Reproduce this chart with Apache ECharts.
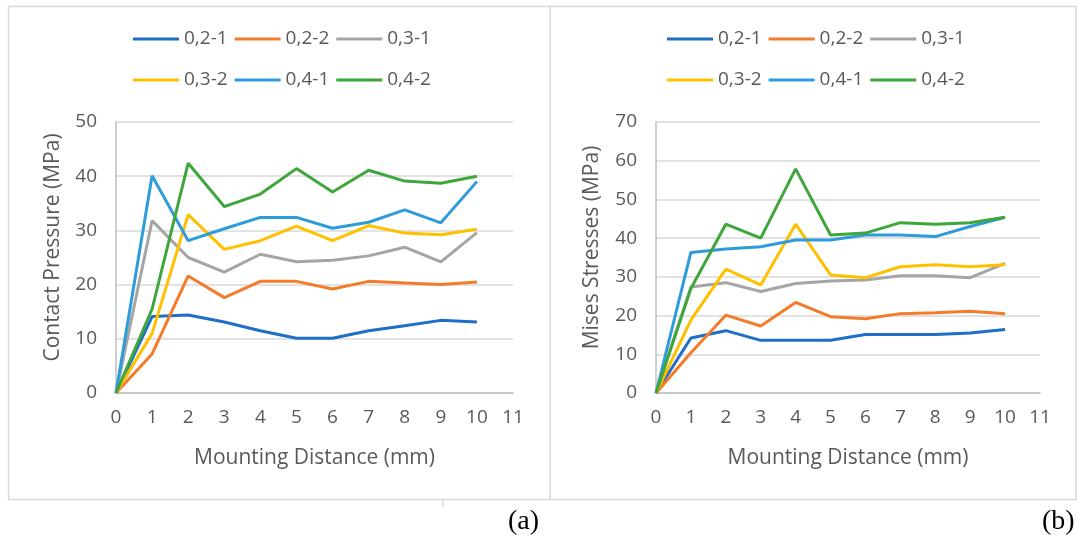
<!DOCTYPE html>
<html>
<head>
<meta charset="utf-8">
<script src="https://cdn.jsdelivr.net/npm/echarts@6/dist/echarts.min.js"></script>
<style>
html,body{margin:0;padding:0;background:#fff;}
#c{width:1077px;height:543px;}
</style>
</head>
<body>
<div id="c"></div>
<script>
// Mounting distance (mm)
const distance = [0, 1, 2, 3, 4, 5, 6, 7, 8, 9, 10];
const seriesNames = ['0,2-1', '0,2-2', '0,3-1', '0,3-2', '0,4-1', '0,4-2'];
const colors = ['#1F6FC6', '#F47B2A', '#A5A5A5', '#FFC000', '#2E9BDA', '#3FA63C'];

// (a) Contact Pressure (MPa)
const cp_02_1 = [0, 14.1, 14.4, 13.1, 11.5, 10.1, 10.1, 11.5, 12.4, 13.4, 13.1];
const cp_02_2 = [0, 7.2, 21.6, 17.6, 20.6, 20.6, 19.2, 20.6, 20.3, 20.0, 20.5];
const cp_03_1 = [0, 31.8, 25.0, 22.3, 25.6, 24.2, 24.5, 25.3, 26.9, 24.2, 29.6];
const cp_03_2 = [0, 11.0, 32.9, 26.5, 28.1, 30.8, 28.1, 30.9, 29.5, 29.2, 30.2];
const cp_04_1 = [0, 40.1, 28.1, 30.3, 32.4, 32.4, 30.4, 31.5, 33.8, 31.4, 39.0];
const cp_04_2 = [0, 15.5, 42.4, 34.4, 36.7, 41.4, 37.1, 41.1, 39.1, 38.7, 40.0];

// (b) Mises Stresses (MPa)
const ms_02_1 = [0, 14.2, 16.1, 13.6, 13.6, 13.6, 15.1, 15.1, 15.1, 15.5, 16.4];
const ms_02_2 = [0, 10.4, 20.1, 17.3, 23.4, 19.7, 19.2, 20.5, 20.7, 21.1, 20.5];
const ms_03_1 = [0, 27.4, 28.5, 26.2, 28.3, 28.9, 29.2, 30.3, 30.3, 29.8, 33.5];
const ms_03_2 = [0, 18.8, 32.0, 27.9, 43.6, 30.5, 29.8, 32.6, 33.1, 32.6, 33.1];
const ms_04_1 = [0, 36.3, 37.2, 37.8, 39.5, 39.5, 40.8, 40.8, 40.4, 43.0, 45.4];
const ms_04_2 = [0, 27.0, 43.6, 40.0, 57.9, 40.8, 41.3, 44.0, 43.6, 44.0, 45.4];

const cpSeries = [cp_02_1, cp_02_2, cp_03_1, cp_03_2, cp_04_1, cp_04_2];
const msSeries = [ms_02_1, ms_02_2, ms_03_1, ms_03_2, ms_04_1, ms_04_2];

// tick labels
const xTicks = [0, 1, 2, 3, 4, 5, 6, 7, 8, 9, 10, 11];
const cpTicks = [0, 10, 20, 30, 40, 50];
const msTicks = [0, 10, 20, 30, 40, 50, 60, 70];

const FONT = 'Open Sans';
const TXT = '#595959';

function pairs(vals) { return distance.map((d, i) => [d, vals[i]]); }

function mkLegend(left, top, names) {
  return {
    left: left, top: top, orient: 'horizontal',
    data: names.map(n => ({ name: n, icon: 'rect' })),
    itemWidth: 46, itemHeight: 3, itemGap: 7,
    padding: 0,
    textStyle: { fontFamily: FONT, fontSize: 19, color: TXT, lineHeight: 22 },
    selectedMode: false
  };
}

function xAxis(gi) {
  return {
    type: 'value', gridIndex: gi, min: 0, max: 11, interval: 1,
    axisLine: { show: true, onZero: false, lineStyle: { color: '#BFBFBF', width: 1.5 } },
    axisTick: { show: false },
    splitLine: { show: false },
    axisLabel: { fontFamily: FONT, fontSize: 19, color: TXT, margin: 15,
      formatter: v => xTicks.indexOf(v) >= 0 ? String(v) : '' },
    name: 'Mounting Distance (mm)', nameLocation: 'middle', nameGap: 55,
    nameTextStyle: { fontFamily: FONT, fontSize: 21, color: TXT }
  };
}

function yAxis(gi, max, ticks, name, gap) {
  return {
    type: 'value', gridIndex: gi, min: 0, max: max, interval: 10,
    axisLine: { show: true, lineStyle: { color: '#BFBFBF', width: 1.5 } },
    axisTick: { show: false },
    splitLine: { show: true, lineStyle: { color: '#D9D9D9', width: 1.5 } },
    axisLabel: { fontFamily: FONT, fontSize: 19, color: TXT, margin: 19,
      formatter: v => ticks.indexOf(v) >= 0 ? String(v) : '' },
    name: name, nameLocation: 'middle', nameGap: gap, nameRotate: 90,
    nameTextStyle: { fontFamily: FONT, fontSize: 21, color: TXT, padding: [0, 0, 0, 20] }
  };
}

const series = [];
seriesNames.forEach((n, i) => {
  series.push({ name: n, type: 'line', xAxisIndex: 0, yAxisIndex: 0, data: pairs(cpSeries[i]),
    showSymbol: false, symbol: 'none', lineStyle: { width: 3, color: colors[i] }, itemStyle: { color: colors[i] },
    z: 2 + i, animation: false });
});
seriesNames.forEach((n, i) => {
  series.push({ name: n, type: 'line', xAxisIndex: 1, yAxisIndex: 1, data: pairs(msSeries[i]),
    showSymbol: false, symbol: 'none', lineStyle: { width: 3, color: colors[i] }, itemStyle: { color: colors[i] },
    z: 2 + i, animation: false });
});

const lineCol = '#D9D9D9';
const option = {
  backgroundColor: '#fff',
  animation: false,
  color: colors,
  legend: [
    mkLegend(133, 28, seriesNames.slice(0, 3)),
    mkLegend(133, 69, seriesNames.slice(3)),
    mkLegend(667, 28, seriesNames.slice(0, 3)),
    mkLegend(667, 69, seriesNames.slice(3))
  ],
  grid: [
    { left: 116, top: 122, width: 397, height: 271 },
    { left: 656, top: 122, width: 384, height: 271 }
  ],
  xAxis: [xAxis(0), xAxis(1)],
  yAxis: [
    yAxis(0, 50, cpTicks, 'Contact Pressure (MPa)', 52),
    yAxis(1, 70, msTicks, 'Mises Stresses (MPa)', 53)
  ],
  series: series,
  graphic: [
    { type: 'line', shape: { x1: 8, y1: 6.5, x2: 1077, y2: 6.5 }, style: { stroke: lineCol, lineWidth: 1.5 } },
    { type: 'line', shape: { x1: 8, y1: 499.5, x2: 1077, y2: 499.5 }, style: { stroke: lineCol, lineWidth: 1.5 } },
    { type: 'line', shape: { x1: 8.5, y1: 6, x2: 8.5, y2: 500 }, style: { stroke: lineCol, lineWidth: 1.5 } },
    { type: 'line', shape: { x1: 550, y1: 6, x2: 550, y2: 500 }, style: { stroke: lineCol, lineWidth: 1.5 } },
    { type: 'line', shape: { x1: 1076, y1: 6, x2: 1076, y2: 500 }, style: { stroke: lineCol, lineWidth: 1.5 } },
    { type: 'line', shape: { x1: 443, y1: 499, x2: 443, y2: 507 }, style: { stroke: lineCol, lineWidth: 1.5 } },
    { type: 'text', left: 508, top: 508, style: { text: '(a)', font: '28px "Liberation Serif", serif', fill: '#000' } },
    { type: 'text', left: 1042, top: 508, style: { text: '(b)', font: '28px "Liberation Serif", serif', fill: '#000' } }
  ]
};

const chart = echarts.init(document.getElementById('c'), null, { renderer: 'canvas' });
chart.setOption(option);
</script>
</body>
</html>
